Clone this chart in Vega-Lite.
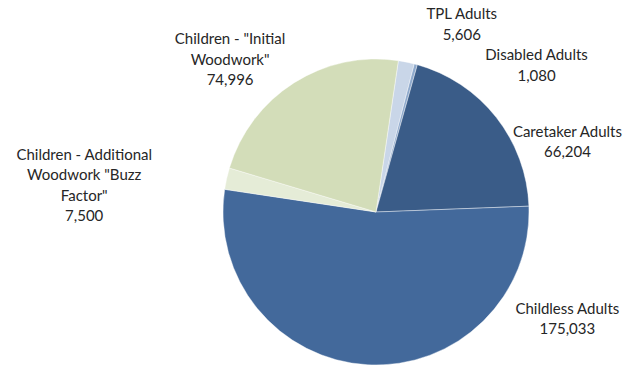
{
  "$schema": "https://vega.github.io/schema/vega-lite/v6.json",
  "width": 526,
  "height": 308,
  "autosize": {"type": "none"},
  "padding": {"left": 113, "top": 58, "right": 0, "bottom": 0},
  "background": "white",
  "config": {"view": {"stroke": null}},
  "data": {
    "values": [
      {"name": "TPL Adults", "value": 5606, "ord": 1},
      {"name": "Disabled Adults", "value": 1080, "ord": 2},
      {"name": "Caretaker Adults", "value": 66204, "ord": 3},
      {"name": "Childless Adults", "value": 175033, "ord": 4},
      {"name": "Children - Additional\nWoodwork \"Buzz\nFactor\"", "value": 7500, "ord": 5},
      {"name": "Children - \"Initial\nWoodwork\"", "value": 74996, "ord": 6}
    ]
  },
  "transform": [
    {"calculate": "datum.name + '\\n' + format(datum.value, ',')", "as": "label"}
  ],
  "encoding": {
    "theta": {"field": "value", "type": "quantitative", "stack": true, "scale": {"range": [0.1466, 6.4298]}},
    "order": {"field": "ord", "type": "quantitative", "sort": "ascending"}
  },
  "layer": [
    {
      "mark": {"type": "arc", "radius": 153, "stroke": "#ffffff", "strokeWidth": 0.4},
      "encoding": {
        "color": {
          "field": "ord", "type": "nominal", "legend": null,
          "scale": {"domain": [1, 2, 3, 4, 5, 6], "range": ["#c9d6e8", "#8ea9cc", "#3a5c88", "#43699b", "#e5ecd7", "#d3ddb9"]}
        }
      }
    },
    {
      "mark": {"type": "text", "radius": 175, "dx": 51, "dy": -26, "font": "Lato", "fontSize": 15, "lineBreak": "\n", "lineHeight": 20.5, "color": "#262626", "align": "center", "baseline": "middle"},
      "encoding": {"text": {"condition": {"test": "datum.ord === 1", "field": "label"}, "value": ""}}
    },
    {
      "mark": {"type": "text", "radius": 175, "dx": 115, "dy": 12, "font": "Lato", "fontSize": 15, "lineBreak": "\n", "lineHeight": 20.5, "color": "#262626", "align": "center", "baseline": "middle"},
      "encoding": {"text": {"condition": {"test": "datum.ord === 2", "field": "label"}, "value": ""}}
    },
    {
      "mark": {"type": "text", "radius": 175, "dx": 54, "dy": 28, "font": "Lato", "fontSize": 15, "lineBreak": "\n", "lineHeight": 20.5, "color": "#262626", "align": "center", "baseline": "middle"},
      "encoding": {"text": {"condition": {"test": "datum.ord === 3", "field": "label"}, "value": ""}}
    },
    {
      "mark": {"type": "text", "radius": 175, "dx": 201, "dy": -78, "font": "Lato", "fontSize": 15, "lineBreak": "\n", "lineHeight": 20.5, "color": "#262626", "align": "center", "baseline": "middle"},
      "encoding": {"text": {"condition": {"test": "datum.ord === 4", "field": "label"}, "value": ""}}
    },
    {
      "mark": {"type": "text", "radius": 175, "dx": -121, "dy": -19, "font": "Lato", "fontSize": 15, "lineBreak": "\n", "lineHeight": 20.5, "color": "#262626", "align": "center", "baseline": "middle"},
      "encoding": {"text": {"condition": {"test": "datum.ord === 5", "field": "label"}, "value": ""}}
    },
    {
      "mark": {"type": "text", "radius": 175, "dx": -52, "dy": -25, "font": "Lato", "fontSize": 15, "lineBreak": "\n", "lineHeight": 20.5, "color": "#262626", "align": "center", "baseline": "middle"},
      "encoding": {"text": {"condition": {"test": "datum.ord === 6", "field": "label"}, "value": ""}}
    }
  ]
}
